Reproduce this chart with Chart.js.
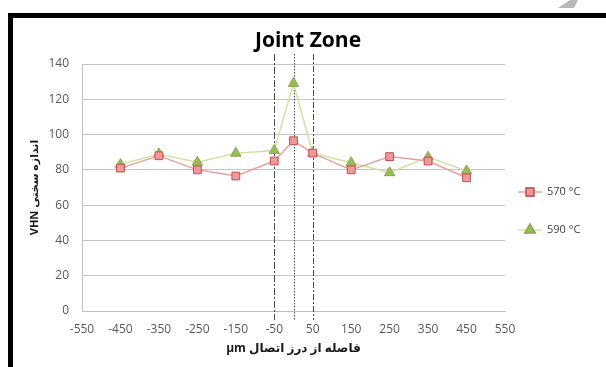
<!DOCTYPE html>
<html>
<head>
<meta charset="utf-8">
<script src="https://cdn.jsdelivr.net/npm/chart.js@4.4.1/dist/chart.umd.min.js"></script>
<style>
  html, body { margin: 0; padding: 0; background: #fff; overflow: hidden; }
  #frame { position: absolute; left: 8px; top: 13px; width: 660px; height: 420px; border: 5px solid #000; box-sizing: border-box; }
  #mark { position: absolute; left: 558px; top: 0; width: 20px; height: 8px; background: #b8b8b8; clip-path: polygon(0 100%, 80% 100%, 100% 0, 60% 0); }
  #wrap { position: absolute; left: 0; top: 0; width: 606px; height: 367px; }
</style>
</head>
<body>
<div id="mark"></div>
<div id="frame"></div>
<div id="wrap"><canvas id="hardness-chart" width="606" height="367"></canvas></div>
<script>
// Hardness values (VHN) against distance from the joint (µm)
const distances = [-450, -350, -250, -150, -50, 0, 50, 150, 250, 350, 450];
const hardness570 = [81, 88, 80, 76.5, 85, 96.5, 89.5, 80, 87.5, 85, 75.5];
const hardness590 = [83, 89, 84.3, 89.4, 91, 129, 89.5, 84, 78.4, 87.2, 79.4];
const seriesLabels = ["570 °C", "590 °C"];

// Axis ticks
const xTicks = [-550, -450, -350, -250, -150, -50, 50, 150, 250, 350, 450, 550];
const yTicks = [0, 20, 40, 60, 80, 100, 120, 140];

// Joint zone boundaries and joint centre
const zoneLines = [-50, 0, 50];

const tickFont = { family: "'Open Sans', 'DejaVu Sans', sans-serif", size: 12 };
const titleFamily = "'Open Sans', 'DejaVu Sans', sans-serif";

const toPoints = (ys) => distances.map((x, i) => ({ x: x, y: ys[i] }));

//Vertical zone lines, chart title and legend
const zonePlugin = {
  id: 'zoneLines',
  beforeDatasetsDraw(chart) {
    const ctx = chart.ctx;
    const x = chart.scales.x;
    const dashes = [[7, 2, 2, 2], [1.5, 1.5], [6, 2, 2, 2]];
    ctx.save();
    ctx.strokeStyle = '#4a4a4a';
    ctx.lineWidth = 1;
    zoneLines.forEach((v, i) => {
      const px = Math.round(x.getPixelForValue(v)) + 0.5;
      ctx.setLineDash(dashes[i]);
      ctx.beginPath();
      ctx.moveTo(px, 54);
      ctx.lineTo(px, 320);
      ctx.stroke();
    });
    ctx.restore();
  },
  afterDraw(chart) {
    const ctx = chart.ctx;
    ctx.save();
    ctx.fillStyle = '#000';
    ctx.font = "bold 21px " + titleFamily;
    ctx.textAlign = 'center';
    ctx.textBaseline = 'middle';
    ctx.fillText('Joint Zone', 308, 41);

    // legend: line with marker, then label
    const rows = [192, 230];
    chart.data.datasets.forEach((ds, i) => {
      const y = rows[i];
      ctx.strokeStyle = ds.borderColor;
      ctx.lineWidth = 1.5;
      ctx.setLineDash([]);
      ctx.beginPath();
      ctx.moveTo(518, y);
      ctx.lineTo(542, y);
      ctx.stroke();
      Chart.helpers.drawPoint(ctx, {
        pointStyle: ds.pointStyle,
        radius: ds.pointRadius,
        borderWidth: 1,
        rotation: 0
      }, 530, y);
      ctx.fillStyle = ds.pointBackgroundColor;
      ctx.strokeStyle = ds.pointBorderColor;
      ctx.fill();
      ctx.stroke();
      ctx.fillStyle = '#404040';
      ctx.font = "11px " + titleFamily;
      ctx.textAlign = 'left';
      ctx.fillText(ds.label, 547, y);
    });
    ctx.restore();
  }
};

const hardnessCanvas = document.getElementById("hardness-chart");

let hardnessChart = new Chart(hardnessCanvas, {
  type: 'line',
  data: {
    datasets: [
      {
        label: seriesLabels[0],
        data: toPoints(hardness570),
        borderColor: '#e3a4a4',
        borderWidth: 1.5,
        pointStyle: 'rect',
        pointRadius: 5.5,
        pointBackgroundColor: '#f0989a',
        pointBorderColor: '#c0504d',
        pointBorderWidth: 1
      },
      {
        label: seriesLabels[1],
        data: toPoints(hardness590),
        borderColor: '#d6e0a6',
        borderWidth: 1.5,
        pointStyle: 'triangle',
        pointRadius: 6,
        pointBackgroundColor: '#9bbb59',
        pointBorderColor: '#8aa94c',
        pointBorderWidth: 1
      }
    ]
  },
  options: {
    responsive: false,
    animation: false,
    layout: {
      padding: { top: 64, left: 20, right: 101, bottom: 0 }
    },
    scales: {
      x: {
        type: 'linear',
        min: -550,
        max: 550,
        afterBuildTicks: (scale) => {
          scale.ticks = xTicks.map(v => ({ value: v }));
        },
        afterFit: (scale) => { scale.height = 56; },
        grid: { display: false, drawTicks: false },
        border: { display: true, color: '#bdbdbd', width: 1 },
        ticks: { color: '#595959', font: tickFont, padding: 11, maxRotation: 0, autoSkip: false },
        title: {
          display: true,
          text: 'μm فاصله از درز اتصال',
          color: '#1a1a1a',
          font: { family: titleFamily, size: 12, weight: 'bold' },
          padding: { top: 0, bottom: 11 }
        }
      },
      y: {
        min: 0,
        max: 140,
        afterBuildTicks: (scale) => {
          scale.ticks = yTicks.map(v => ({ value: v }));
        },
        afterFit: (scale) => { scale.width = 62; },
        grid: { color: '#c4c4c4', lineWidth: 1, drawTicks: false },
        border: { display: true, color: '#bdbdbd', width: 1 },
        ticks: { color: '#595959', font: tickFont, padding: 13 },
        title: {
          display: true,
          text: 'VHN اندازه سختی',
          color: '#1a1a1a',
          font: { family: titleFamily, size: 11, weight: 'bold' },
          padding: { top: 8, bottom: 0 }
        }
      }
    },
    plugins: {
      legend: { display: false },
      tooltip: { enabled: false }
    }
  },
  plugins: [zonePlugin]
});
</script>
</body>
</html>
